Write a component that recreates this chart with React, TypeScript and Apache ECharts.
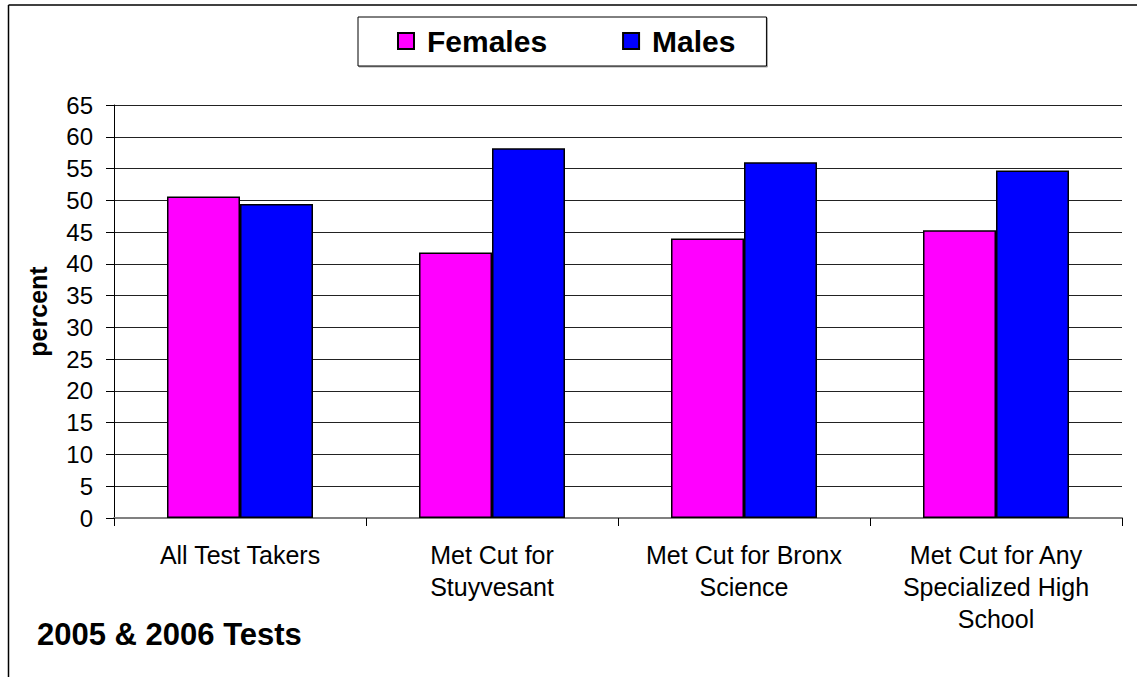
import React, { useEffect, useRef } from "react";
import * as echarts from "echarts";

const categories = [
  "All Test Takers",
  "Met Cut for\nStuyvesant",
  "Met Cut for Bronx\nScience",
  "Met Cut for Any\nSpecialized High\nSchool",
];
const femalesValues = [50.6, 41.8, 44.0, 45.3];
const malesValues = [49.4, 58.2, 56.0, 54.7];
const seriesNames = ["Females", "Males"];
const yMin = 0;
const yMax = 65;
const yInterval = 5;
const yAxisTitle = "percent";
const footnote = "2005 & 2006 Tests";

const FONT = 'Arial, "Liberation Sans", sans-serif';

export default function App() {
  const ref = useRef<HTMLDivElement>(null);

  useEffect(() => {
    if (!ref.current) return;
    const chart = echarts.init(ref.current, undefined, { renderer: "svg" });
    chart.setOption({
      animation: false,
      backgroundColor: "#fff",
      textStyle: { fontFamily: FONT, color: "#000" },
      legend: {
        data: seriesNames,
        left: 358,
        top: 17,
        orient: "horizontal",
        icon: "rect",
        itemWidth: 16,
        itemHeight: 16,
        itemGap: 75,
        padding: [9, 31, 10, 39],
        borderColor: "#000",
        borderWidth: 1,
        shadowColor: "rgba(0,0,0,0.35)",
        shadowOffsetX: 1,
        shadowOffsetY: 1,
        shadowBlur: 1,
        backgroundColor: "#fff",
        textStyle: {
          fontFamily: FONT,
          fontWeight: "bold",
          fontSize: 30,
          color: "#000",
          padding: [0, 0, 0, 8],
        },
      },
      grid: { left: 114, right: 15, top: 105, bottom: 159, containLabel: false },
      xAxis: {
        type: "category",
        data: categories,
        boundaryGap: true,
        axisLine: { show: true, lineStyle: { color: "#808080", width: 2 } },
        axisTick: { show: true, length: 8, lineStyle: { color: "#000", width: 1 } },
        axisLabel: {
          interval: 0,
          fontFamily: FONT,
          fontSize: 25,
          lineHeight: 32,
          color: "#000",
          margin: 21,
          align: "center",
        },
      },
      yAxis: {
        type: "value",
        min: yMin,
        max: yMax,
        interval: yInterval,
        name: yAxisTitle,
        nameLocation: "middle",
        nameRotate: 90,
        nameGap: 64,
        nameTextStyle: { fontFamily: FONT, fontWeight: "bold", fontSize: 25, color: "#000" },
        axisLine: { show: true, lineStyle: { color: "#000", width: 1 } },
        axisTick: { show: true, length: 8, lineStyle: { color: "#000", width: 1 } },
        axisLabel: { fontFamily: FONT, fontSize: 24, color: "#000", margin: 21 },
        splitLine: { show: true, lineStyle: { color: "#222", width: 1 } },
      },
      series: [
        {
          name: seriesNames[0],
          type: "bar",
          data: femalesValues,
          barWidth: 73,
          barGap: "0%",
          itemStyle: { color: "#ff00ff", borderColor: "#000", borderWidth: 1.5 },
        },
        {
          name: seriesNames[1],
          type: "bar",
          data: malesValues,
          barWidth: 73,
          barGap: "0%",
          itemStyle: { color: "#0000ff", borderColor: "#000", borderWidth: 1.5 },
        },
      ],
      graphic: [
        {
          type: "line",
          shape: { x1: 8.5, y1: 5, x2: 1137, y2: 5 },
          style: { stroke: "#000", lineWidth: 1.5 },
          silent: true,
        },
        {
          type: "line",
          shape: { x1: 8.5, y1: 5, x2: 8.5, y2: 677 },
          style: { stroke: "#000", lineWidth: 1.5 },
          silent: true,
        },
        {
          type: "text",
          left: 37,
          top: 619,
          style: {
            text: footnote,
            fontFamily: FONT,
            fontWeight: "bold",
            fontSize: 31,
            fill: "#000",
          },
        },
      ],
    });
    return () => chart.dispose();
  }, []);

  return (
    <div
      ref={ref}
      style={{ position: "fixed", left: 0, top: 0, width: 1137, height: 677, background: "#fff" }}
    />
  );
}
